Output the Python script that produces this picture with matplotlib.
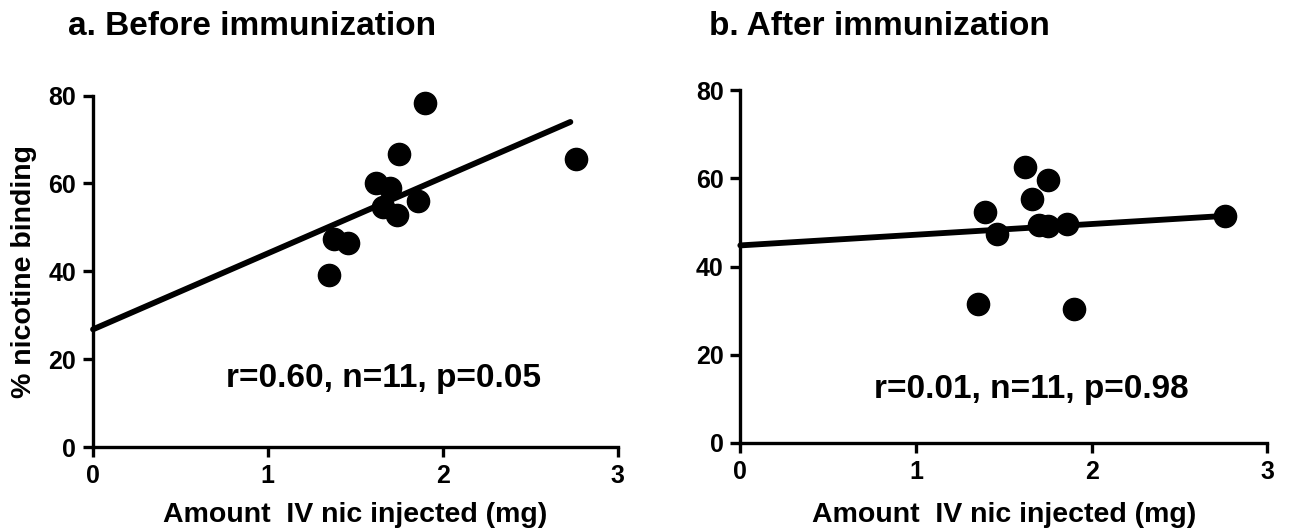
import matplotlib
matplotlib.use("Agg")
import matplotlib.pyplot as plt
from matplotlib import font_manager

# dose of IV nicotine per animal (mg), same animals in both panels
dose_before = [1.35, 1.38, 1.46, 1.62, 1.66, 1.70, 1.74, 1.75, 1.86, 1.90, 2.76]
binding_before = [39.1, 47.3, 46.4, 60.2, 54.7, 59.0, 52.8, 66.6, 56.0, 78.3, 65.5]

dose_after = [1.35, 1.39, 1.46, 1.62, 1.66, 1.70, 1.75, 1.75, 1.86, 1.90, 2.76]
binding_after = [31.6, 52.4, 47.3, 62.7, 55.3, 49.5, 59.6, 49.2, 49.7, 30.4, 51.5]

# regression lines (end points)
fit_x_before = [0.0, 2.73]
fit_y_before = [26.8, 74.0]
fit_x_after = [0.0, 2.76]
fit_y_after = [44.8, 51.5]

titles = ["a. Before immunization", "b. After immunization"]
stats = ["r=0.60, n=11, p=0.05", "r=0.01, n=11, p=0.98"]
stat_y = [15.5, 12.0]
xticks = [0, 1, 2, 3]
yticks = [0, 20, 40, 60, 80]

names = {f.name for f in font_manager.fontManager.ttflist}
narrow = "Liberation Sans Narrow" if "Liberation Sans Narrow" in names else "Liberation Sans"
plt.rcParams["font.family"] = ["Liberation Sans", "DejaVu Sans"]
plt.rcParams["font.weight"] = "bold"

fig = plt.figure(figsize=(12.92, 5.31), dpi=100)
ax_a = fig.add_axes([0.072, 0.158, 0.406, 0.662])
ax_b = fig.add_axes([0.573, 0.166, 0.408, 0.664])

panels = [
    (ax_a, dose_before, binding_before, fit_x_before, fit_y_before),
    (ax_b, dose_after, binding_after, fit_x_after, fit_y_after),
]

for i, (ax, x, y, fx, fy) in enumerate(panels):
    ax.plot(fx, fy, color="black", lw=4.2, solid_capstyle="round", clip_on=False, zorder=2)
    ax.plot(x, y, "o", color="black", ms=16, clip_on=False, zorder=3)
    ax.set_xlim(0, 3); ax.set_ylim(0, 80)
    ax.set_xticks(xticks); ax.set_yticks(yticks)
    for s in ("top", "right"):
        ax.spines[s].set_visible(False)
    for s in ("left", "bottom"):
        ax.spines[s].set_linewidth(2.4)
    ax.tick_params(width=2.4, length=7, direction="out", pad=5)
    for lbl in ax.get_xticklabels() + ax.get_yticklabels():
        lbl.set_fontfamily(narrow); lbl.set_fontsize(18); lbl.set_fontweight("bold")
    ax.text(0.76, stat_y[i], stats[i], fontsize=24, fontweight="bold",
            family=narrow, va="center", ha="left")

ax_a.set_xlabel("Amount  IV nic injected (mg)", fontsize=20.5, fontweight="bold", labelpad=10)
ax_b.set_xlabel("Amount  IV nic injected (mg)", fontsize=20.5, fontweight="bold", labelpad=13)
ax_a.set_ylabel("% nicotine binding", fontsize=20.5, fontweight="bold", labelpad=8)

fig.text(0.053, 0.95, titles[0], fontsize=24, fontweight="bold", va="center")
fig.text(0.549, 0.95, titles[1], fontsize=24, fontweight="bold", va="center")

fig.savefig("out.png", dpi=100)
